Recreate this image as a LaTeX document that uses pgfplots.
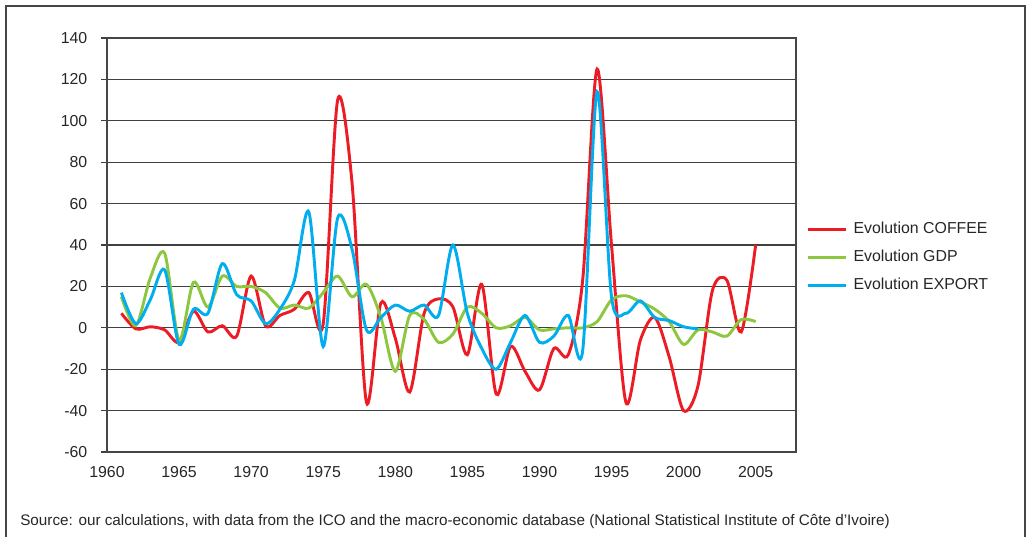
\documentclass[border=0pt]{standalone}
\usepackage{fontspec}
\setmainfont{Liberation Sans}
\usepackage{pgfplots}
\pgfplotsset{compat=1.18}

\definecolor{coffee}{RGB}{237,28,36}
\definecolor{gdp}{RGB}{141,198,63}
\definecolor{export}{RGB}{0,174,239}
\definecolor{gridgray}{RGB}{64,64,64}
\definecolor{framegray}{RGB}{70,70,70}

\begin{document}
\begin{tikzpicture}
  % page = 1027 x 537 px, 1px = 0.75pt, origin top-left
  \useasboundingbox (0pt,0pt) rectangle (770.25pt,-402.75pt);
  \draw[framegray, line width=0.8pt] (4.5pt,-402.75pt) -- (4.5pt,-4.5pt) -- (768.75pt,-4.5pt) -- (768.75pt,-402.75pt);

  \begin{axis}[
    at={(80.25pt,-339pt)}, anchor=south west,
    scale only axis,
    width=516.75pt, height=310.5pt,
    xmin=1960, xmax=2007.8,
    ymin=-60, ymax=140,
    xtick={1960,1965,...,2005},
    ytick={-60,-40,...,140},
    x tick label style={/pgf/number format/1000 sep={}},
    /pgf/number format/assume math mode=true,
    tick label style={font=\fontsize{11.9}{14}\selectfont, text=black!85},
    xtick style={draw=none},
    ytick pos=left,
    tick align=outside,
    major tick length=4.5pt,
    ytick style={gridgray, line width=0.8pt},
    yticklabel style={xshift=-6.75pt},
    xticklabel style={yshift=-3pt},
    ymajorgrids,
    grid style={gridgray, line width=0.9pt},
    axis line style={framegray, line width=1.3pt},
    legend cell align=left,
    legend style={at={(1.015,0.469)}, anchor=west, draw=none, fill=none,
      font=\fontsize{11.9}{14}\selectfont, text=black!85,
      row sep=6pt, inner sep=0pt, column sep=2.5pt,
      nodes={text height=8.5pt, text depth=2.5pt, inner sep=2pt}},
    legend image code/.code={\draw[#1] (0pt,0pt) -- (28.5pt,0pt);},
    every axis plot/.append style={line width=2.2pt, smooth, tension=0.5, no markers},
  ]
  \addplot[coffee] coordinates {
    (1961,7) (1962,-0.5) (1963,0.5) (1964,-1) (1965,-7) (1966,8) (1967,-2)
    (1968,1) (1969,-4) (1970,25) (1971,1) (1972,6) (1973,9) (1974,17)
    (1975,2) (1976,110) (1977,70) (1978,-36) (1979,12) (1980,-5) (1981,-31)
    (1982,7) (1983,14) (1984,10) (1985,-13) (1986,21) (1987,-32) (1988,-9)
    (1989,-21) (1990,-30) (1991,-10) (1992,-13) (1993,23) (1994,125) (1995,40)
    (1996,-36) (1997,-6) (1998,5) (1999,-14) (2000,-40) (2001,-28) (2002,18)
    (2003,23) (2004,-2) (2005,40)
  };
  \addlegendentry{Evolution COFFEE}
  \addplot[gdp] coordinates {
    (1961,15) (1962,1) (1963,24) (1964,36) (1965,-6) (1966,22) (1967,10)
    (1968,25) (1969,20) (1970,20) (1971,17) (1972,9.5) (1973,11) (1974,9.5)
    (1975,17) (1976,25) (1977,15) (1978,21) (1979,5) (1980,-21) (1981,6)
    (1982,4) (1983,-7) (1984,-3) (1985,10) (1986,7) (1987,0) (1988,1)
    (1989,5) (1990,-1) (1991,-0.5) (1992,0) (1993,0) (1994,3) (1995,13.5)
    (1996,15.5) (1997,12.5) (1998,9) (1999,3) (2000,-8) (2001,-1) (2002,-2)
    (2003,-4) (2004,4) (2005,3)
  };
  \addlegendentry{Evolution GDP}
  \addplot[export] coordinates {
    (1961,17) (1962,2) (1963,13.5) (1964,28) (1965,-8) (1966,9) (1967,7)
    (1968,31) (1969,16) (1970,13) (1971,2) (1972,9) (1973,23) (1974,56)
    (1975,-9) (1976,53) (1977,38) (1978,-1) (1979,5) (1980,11) (1981,8)
    (1982,11) (1983,6) (1984,40) (1985,7) (1986,-10) (1987,-20) (1988,-7)
    (1989,6) (1990,-7) (1991,-4) (1992,6) (1993,-11) (1994,114) (1995,15)
    (1996,7) (1997,13) (1998,5) (1999,3.5) (2000,0.5) (2001,-0.5)
  };
  \addlegendentry{Evolution EXPORT}
  \end{axis}

  \node[anchor=base west, inner sep=0pt, text=black!85,
    font=\fontsize{11.45}{13}\selectfont] at (15pt,-393.75pt)
    {Source: our calculations, with data from the ICO and the macro-economic database (National Statistical Institute of Côte d’Ivoire)};
\end{tikzpicture}
\end{document}
